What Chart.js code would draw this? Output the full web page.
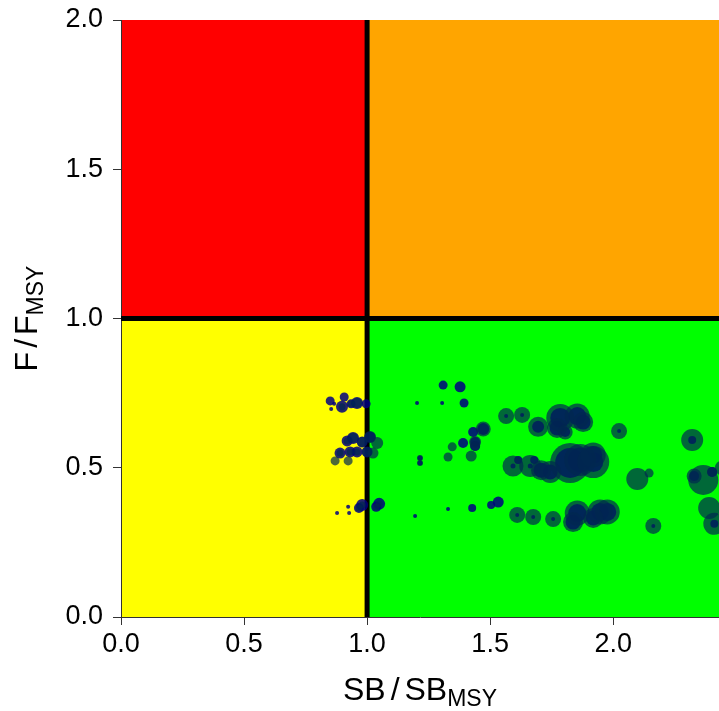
<!DOCTYPE html>
<html>
<head>
<meta charset="utf-8">
<script src="https://cdn.jsdelivr.net/npm/chart.js@4/dist/chart.umd.min.js"></script>
<style>
  body { margin: 0; background: #fff; }
</style>
</head>
<body>
<canvas id="kobe" width="719" height="711"></canvas>
<script>
// SB/SBmsy for each point
const sbRatio = [
  0.850, 0.907, 0.898, 0.935, 0.959, 0.996, 0.854, 0.866, 0.943, 0.919,
  1.012, 1.041, 0.980, 0.890, 0.931, 0.959, 1.000, 1.024, 0.870, 0.923,
  0.980, 0.967, 1.049, 1.037, 0.923, 0.927, 0.878, 1.195, 1.203, 1.215,
  1.215, 1.309, 1.378, 1.305, 1.394, 1.565, 1.630, 1.431, 1.472, 1.390,
  1.439, 1.439, 1.346, 1.329, 1.423, 1.593, 1.614, 1.329, 1.427, 1.504,
  1.533, 1.610, 1.695, 1.785, 1.854, 1.878, 1.772, 2.024, 1.825, 1.866,
  1.919, 1.919, 1.744, 1.663, 1.679, 1.675, 1.756, 1.854, 1.837, 1.947,
  1.976, 1.919, 2.321, 2.098, 2.146, 2.329, 2.366, 2.402, 2.390, 2.411,
  2.163, 2.443, 1.707, 1.805
];
// F/Fmsy for each point
const fRatio = [
  0.724, 0.737, 0.704, 0.714, 0.717, 0.714, 0.697, 0.714, 0.600, 0.590,
  0.603, 0.583, 0.586, 0.549, 0.553, 0.553, 0.553, 0.549, 0.523, 0.523,
  0.375, 0.365, 0.379, 0.369, 0.369, 0.348, 0.348, 0.338, 0.717, 0.533,
  0.516, 0.777, 0.771, 0.717, 0.717, 0.673, 0.677, 0.620, 0.630, 0.583,
  0.586, 0.573, 0.570, 0.536, 0.539, 0.506, 0.526, 0.362, 0.365, 0.375,
  0.385, 0.342, 0.637, 0.667, 0.673, 0.653, 0.633, 0.623, 0.516, 0.526,
  0.543, 0.519, 0.486, 0.506, 0.526, 0.335, 0.328, 0.348, 0.318, 0.352,
  0.352, 0.332, 0.593, 0.462, 0.482, 0.472, 0.459, 0.486, 0.365, 0.312,
  0.305, 0.499, 0.492, 0.620
];
// bubble radius of the green (outer) and navy (inner) markers
const outerSize = [
  0, 0, 3.5, 3.5, 5, 0, 0, 0, 5, 3.5,
  6, 6, 5, 3.5, 3.5, 3.5, 5, 5.5, 4.5, 4.5,
  3.5, 3.5, 3.5, 3.5, 0, 0, 0, 0, 0, 3,
  3, 0, 0, 0, 0, 8, 8, 0, 7.5, 0,
  6, 5, 4.5, 4.5, 5.5, 10.5, 3.5, 0, 0, 0,
  0, 8, 10, 14, 12.5, 10, 10, 8, 20, 16,
  12.5, 16, 11, 11, 0, 8, 8, 12.5, 10, 12.5,
  12.5, 10, 11, 11, 4.5, 7.5, 15, 5, 11, 11,
  8, 7.5, 10, 7.5
];
const innerSize = [
  4.5, 4.5, 6, 4.5, 6, 4.5, 2, 2, 6, 5.5,
  5.5, 0, 5.5, 5.5, 5.5, 5.5, 5.5, 0, 0, 0,
  6, 5, 6, 5, 2, 2, 2, 2, 2, 2.5,
  2.5, 4.5, 5.5, 2, 4.5, 2, 2, 5, 6, 5,
  5, 5, 0, 0, 0, 2.5, 4, 2, 4, 4,
  5.5, 2, 6, 10, 9, 7.5, 7.5, 2, 15, 12.5,
  9, 10, 7.5, 2.5, 4, 2, 2, 9, 7.5, 9,
  9, 7.5, 4, 0, 0, 5, 0, 5, 0, 4,
  2, 0, 7.5, 5
];
const xTicks = [0, 0.5, 1.0, 1.5, 2.0];
const yTicks = [0, 0.5, 1.0, 1.5, 2.0];
const xMax = 2.43;
const yMax = 2;
const limitSB = 1;
const limitF = 1;

const bubbles = (sizes) => sbRatio
  .map((x, i) => ({ x: x, y: fRatio[i], r: sizes[i] }))
  .filter(p => p.r > 0);

// coloured quadrants behind the scales
const quadrants = {
  id: 'quadrants',
  beforeDraw(chart) {
    const { ctx, chartArea: a, scales: { x, y } } = chart;
    const mx = x.getPixelForValue(limitSB);
    const my = y.getPixelForValue(limitF);
    ctx.save();
    ctx.fillStyle = '#ff0000';
    ctx.fillRect(a.left, a.top, mx - a.left, my - a.top);
    ctx.fillStyle = '#ffa500';
    ctx.fillRect(mx, a.top, a.right - mx, my - a.top);
    ctx.fillStyle = '#ffff00';
    ctx.fillRect(a.left, my, mx - a.left, a.bottom - my);
    ctx.fillStyle = '#00ff00';
    ctx.fillRect(mx, my, a.right - mx, a.bottom - my);
    ctx.restore();
  },
  beforeDatasetsDraw(chart) {
    const { ctx, chartArea: a, scales: { x, y } } = chart;
    const mx = x.getPixelForValue(limitSB);
    const my = y.getPixelForValue(limitF);
    ctx.save();
    ctx.strokeStyle = '#000';
    ctx.lineWidth = 5;
    ctx.beginPath();
    ctx.moveTo(mx, a.top);
    ctx.lineTo(mx, a.bottom);
    ctx.moveTo(a.left, my);
    ctx.lineTo(a.right, my);
    ctx.stroke();
    ctx.restore();
  }
};

// axis titles with subscripts
function drawRich(ctx, parts, cx, cy, angle) {
  ctx.save();
  ctx.translate(cx, cy);
  ctx.rotate(angle);
  ctx.fillStyle = '#000';
  ctx.textBaseline = 'alphabetic';
  let total = 0;
  parts.forEach(p => {
    ctx.font = p.size + 'px "Liberation Sans", Arial, sans-serif';
    p.w = ctx.measureText(p.text).width;
    total += p.w + (p.gap || 0);
  });
  let pos = -total / 2;
  parts.forEach(p => {
    ctx.font = p.size + 'px "Liberation Sans", Arial, sans-serif';
    ctx.fillText(p.text, pos, p.dy || 0);
    pos += p.w + (p.gap || 0);
  });
  ctx.restore();
}

const axisTitles = {
  id: 'axisTitles',
  afterDraw(chart) {
    const { ctx, chartArea: a } = chart;
    drawRich(ctx, [
      { text: 'SB', size: 32, gap: 5 },
      { text: '/', size: 32, gap: 5 },
      { text: 'SB', size: 32 },
      { text: 'MSY', size: 23, dy: 6 }
    ], (a.left + a.right) / 2, 700, 0);
    drawRich(ctx, [
      { text: 'F', size: 32, gap: 4 },
      { text: '/', size: 32, gap: 4 },
      { text: 'F', size: 32 },
      { text: 'MSY', size: 23, dy: 6 }
    ], 37, (a.top + a.bottom) / 2, -Math.PI / 2);
  }
};

const tickFont = { family: '"Liberation Sans", Arial, sans-serif', size: 27 };

new Chart(document.getElementById('kobe'), {
  type: 'bubble',
  data: {
    datasets: [
      {
        label: 'outer',
        data: bubbles(outerSize),
        backgroundColor: 'rgba(0, 40, 80, 0.7)',
        borderWidth: 0
      },
      {
        label: 'inner',
        data: bubbles(innerSize),
        backgroundColor: 'rgba(0, 0, 128, 0.85)',
        borderWidth: 0
      }
    ]
  },
  options: {
    responsive: false,
    animation: false,
    events: [],
    layout: { autoPadding: false, padding: { top: 20, right: 0, left: 0, bottom: 0 } },
    plugins: {
      legend: { display: false },
      tooltip: { enabled: false }
    },
    scales: {
      x: {
        type: 'linear',
        min: 0,
        max: xMax,
        border: { display: true, color: '#333', width: 1 },
        grid: { drawOnChartArea: false, drawTicks: true, tickLength: 8, color: '#333' },
        ticks: { font: tickFont, color: '#000', padding: 3, maxRotation: 0, callback: v => v.toFixed(1) },
        afterBuildTicks: s => { s.ticks = xTicks.map(v => ({ value: v })); },
        afterFit: s => { s.height = 94; s.paddingLeft = 0; s.paddingRight = 0; }
      },
      y: {
        type: 'linear',
        min: 0,
        max: yMax,
        border: { display: true, color: '#333', width: 1 },
        grid: { drawOnChartArea: false, drawTicks: true, tickLength: 8, color: '#333' },
        ticks: { font: tickFont, color: '#000', padding: 10, callback: v => v.toFixed(1) },
        afterBuildTicks: s => { s.ticks = yTicks.map(v => ({ value: v })); },
        afterFit: s => { s.width = 121; s.paddingTop = 0; s.paddingBottom = 0; }
      }
    }
  },
  plugins: [quadrants, axisTitles]
});
</script>
</body>
</html>
